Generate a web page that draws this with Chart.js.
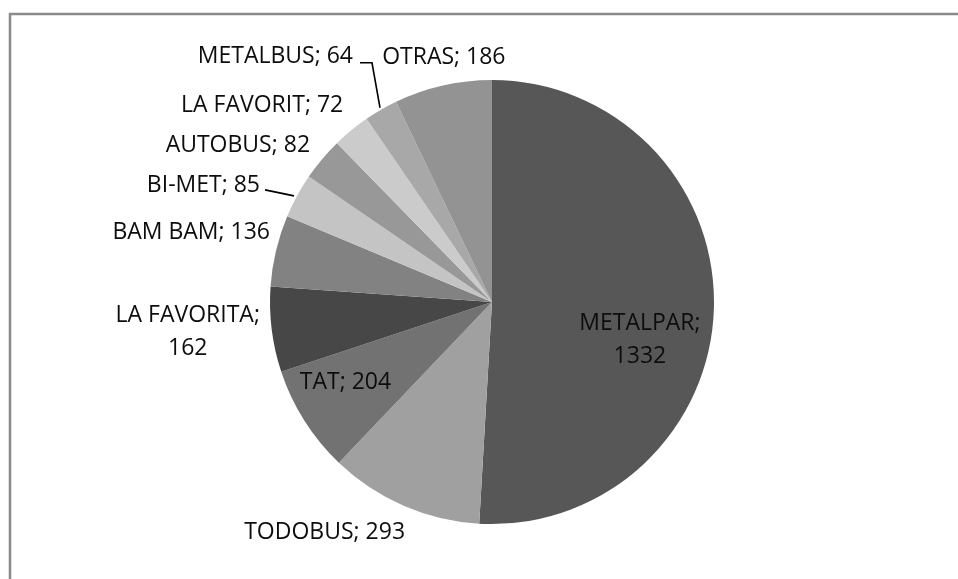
<!DOCTYPE html>
<html>
<head>
<meta charset="utf-8">
<script src="https://cdn.jsdelivr.net/npm/chart.js@4/dist/chart.umd.min.js"></script>
<style>
  html, body { margin: 0; padding: 0; background: #ffffff; }
  #wrap { position: relative; width: 958px; height: 579px; }
</style>
</head>
<body>
<div id="wrap"><canvas id="c" width="958" height="579"></canvas></div>
<script>
// ---- data ----
const categories = ["METALPAR", "TODOBUS", "TAT", "LA FAVORITA", "BAM BAM", "BI-MET", "AUTOBUS", "LA FAVORIT", "METALBUS", "OTRAS"];
const values = [1332, 293, 204, 162, 136, 85, 82, 72, 64, 186];
const sliceColors = ["#575757", "#a0a0a0", "#727272", "#474747", "#828282", "#c4c4c4", "#989898", "#cbcbcb", "#a8a8a8", "#939393"];

// ---- label layout (offsets from each slice's outer-edge midpoint) ----
const labelLayout = [
  { align: "center", dx: -74, dy: 32, split: true },
  { align: "center", dx: -79, dy: 27 },
  { align: "center", dx: 41, dy: -38 },
  { align: "center", dx: -84, dy: 2, split: true },
  { align: "right", dx: -6, dy: -18 },
  { align: "right", dx: -37, dy: -10, leader: [[-3, 0], [-32, -6]] },
  { align: "right", dx: -12, dy: -14 },
  { align: "right", dx: -8, dy: -25 },
  { align: "right", dx: -28, dy: -53, leader: [[-1, -2], [-9, -47], [-21, -47]] },
  { align: "center", dx: 1, dy: -28 }
];

const frame = {
  id: "frame",
  beforeDraw(chart) {
    const ctx = chart.ctx;
    ctx.save();
    ctx.fillStyle = "#ffffff";
    ctx.fillRect(0, 0, chart.width, chart.height);
    ctx.strokeStyle = "#8a8a8a";
    ctx.lineWidth = 2.5;
    ctx.beginPath();
    ctx.moveTo(10, chart.height);
    ctx.lineTo(10, 14);
    ctx.lineTo(chart.width, 14);
    ctx.stroke();
    ctx.restore();
  }
};

const labels = {
  id: "sliceLabels",
  afterDatasetsDraw(chart) {
    const ctx = chart.ctx;
    const meta = chart.getDatasetMeta(0);
    ctx.save();
    ctx.font = "23px 'Open Sans'";
    ctx.fillStyle = "#0d0d0d";
    ctx.textBaseline = "middle";
    meta.data.forEach((arc, i) => {
      const p = arc.getProps(["x", "y", "startAngle", "endAngle", "outerRadius"], true);
      const mid = (p.startAngle + p.endAngle) / 2;
      const ex = p.x + p.outerRadius * Math.cos(mid);
      const ey = p.y + p.outerRadius * Math.sin(mid);
      const L = labelLayout[i];
      const tx = ex + L.dx, ty = ey + L.dy;
      if (L.leader) {
        ctx.strokeStyle = "#000000";
        ctx.lineWidth = 1.6;
        ctx.beginPath();
        L.leader.forEach((pt, k) => {
          if (k === 0) ctx.moveTo(ex + pt[0], ey + pt[1]);
          else ctx.lineTo(ex + pt[0], ey + pt[1]);
        });
        ctx.stroke();
      }
      ctx.textAlign = L.align;
      if (L.split) {
        ctx.fillText(categories[i] + ";", tx, ty - 16.5);
        ctx.fillText(String(values[i]), tx, ty + 16.5);
      } else {
        ctx.fillText(categories[i] + "; " + values[i], tx, ty);
      }
    });
    ctx.restore();
  }
};

new Chart(document.getElementById("c"), {
  type: "pie",
  data: {
    labels: categories,
    datasets: [{
      data: values,
      backgroundColor: sliceColors,
      borderWidth: 0,
      hoverOffset: 0,
      offset: 0
    }]
  },
  options: {
    responsive: false,
    animation: false,
    events: [],
    layout: { padding: { top: 80, bottom: 55, left: 26, right: 0 } },
    plugins: { legend: { display: false }, tooltip: { enabled: false } }
  },
  plugins: [frame, labels]
});
</script>
</body>
</html>
